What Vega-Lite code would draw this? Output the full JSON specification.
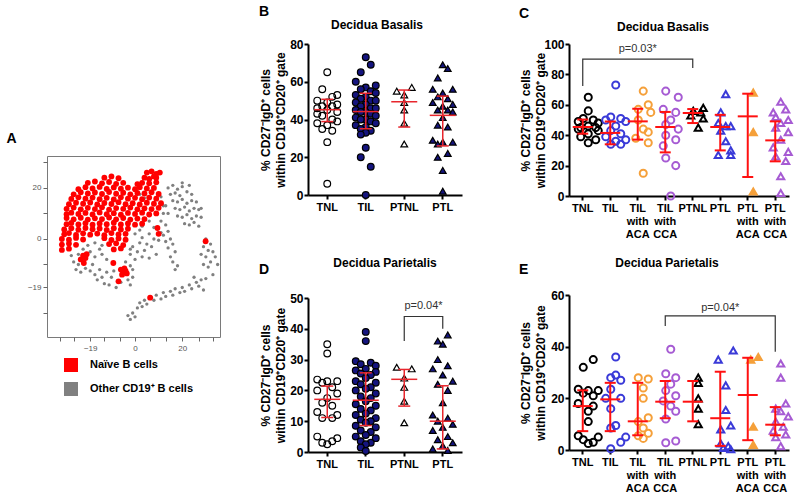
{
"$schema": "https://vega.github.io/schema/vega-lite/v6.json",
"padding": {"left": 5, "top": 5, "right": 0, "bottom": 0},
"config": {
  "font": "Liberation Sans",
  "view": {"stroke": null},
  "axis": {"domainColor": "black", "domainWidth": 2, "tickColor": "black", "tickWidth": 2, "tickSize": 4, "labelFontWeight": "bold", "labelColor": "black", "labelFontSize": 12, "labelPadding": 1, "titleFontWeight": "bold", "titleFontSize": 12, "titleColor": "black", "grid": false, "labelOverlap": false, "labelBound": false, "labelFlush": false},
  "axisX": {"labelAngle": 0, "labelFontSize": 11, "labelLineHeight": 13, "labelPadding": 2},
  "title": {"fontSize": 12, "fontWeight": "bold", "color": "black"},
  "point": {"opacity": 1}
},
"datasets": {
  "legend": [{"t":"N","lab":"Naïve B cells"},{"t":"O","lab":"Other CD19⁺ B cells"}],
  "tsne": [
    {"x":14,"y":20,"t":"O"},{"x":16,"y":21,"t":"O"},{"x":18,"y":19.5,"t":"O"},{"x":20,"y":20.5,"t":"O"},{"x":15,"y":17.5,"t":"O"},{"x":17,"y":18,"t":"O"},{"x":19,"y":17,"t":"O"},{"x":22,"y":18.5,"t":"O"},{"x":24,"y":17.5,"t":"O"},{"x":16,"y":15,"t":"O"},{"x":18,"y":14.5,"t":"O"},{"x":20,"y":15.5,"t":"O"},{"x":22,"y":14,"t":"O"},{"x":24,"y":15,"t":"O"},{"x":26,"y":14.5,"t":"O"},{"x":17,"y":12,"t":"O"},{"x":19,"y":11.5,"t":"O"},{"x":21,"y":12.5,"t":"O"},{"x":23,"y":11,"t":"O"},{"x":25,"y":12,"t":"O"},{"x":27,"y":11.5,"t":"O"},{"x":18,"y":9,"t":"O"},{"x":20,"y":8.5,"t":"O"},{"x":22,"y":9.5,"t":"O"},{"x":24,"y":8,"t":"O"},{"x":26,"y":9,"t":"O"},{"x":28,"y":8.5,"t":"O"},{"x":21,"y":6,"t":"O"},{"x":23,"y":5.5,"t":"O"},{"x":25,"y":6.5,"t":"O"},{"x":27,"y":5,"t":"O"},{"x":13,"y":13,"t":"O"},{"x":14,"y":10,"t":"O"},{"x":28,"y":12,"t":"O"},{"x":20,"y":22,"t":"O"},{"x":23,"y":21,"t":"O"},
    {"x":2,"y":17.5,"t":"O"},{"x":4,"y":16,"t":"O"},{"x":11,"y":16.5,"t":"O"},{"x":12,"y":13,"t":"O"},{"x":12,"y":10,"t":"O"},{"x":11,"y":7,"t":"O"},{"x":13,"y":5.5,"t":"O"},{"x":14,"y":3,"t":"O"},{"x":12,"y":1.5,"t":"O"},{"x":15,"y":0,"t":"O"},{"x":16,"y":-2,"t":"O"},{"x":14,"y":-3.5,"t":"O"},{"x":17,"y":-5,"t":"O"},{"x":15,"y":-7,"t":"O"},{"x":16,"y":-9,"t":"O"},{"x":18,"y":-10.5,"t":"O"},{"x":17,"y":-12,"t":"O"},{"x":13,"y":-1,"t":"O"},{"x":10,"y":-0.5,"t":"O"},{"x":11,"y":2.5,"t":"O"},{"x":8,"y":4.5,"t":"O"},{"x":6,"y":7,"t":"O"},{"x":3,"y":5,"t":"O"},{"x":2,"y":3.5,"t":"O"},{"x":0,"y":2,"t":"O"},{"x":3,"y":0.5,"t":"O"},{"x":6,"y":2,"t":"O"},{"x":8,"y":0,"t":"O"},{"x":5,"y":-2,"t":"O"},{"x":2,"y":-1.5,"t":"O"},{"x":-1,"y":-3,"t":"O"},{"x":1,"y":-5,"t":"O"},{"x":4,"y":-4.5,"t":"O"},{"x":7,"y":-3,"t":"O"},{"x":3,"y":-7,"t":"O"},{"x":0,"y":-8,"t":"O"},{"x":-2,"y":-6,"t":"O"},{"x":6,"y":-7.5,"t":"O"},{"x":9,"y":-6,"t":"O"},
    {"x":-26,"y":-9,"t":"O"},{"x":-24,"y":-10,"t":"O"},{"x":-25,"y":-12,"t":"O"},{"x":-23,"y":-13,"t":"O"},{"x":-21,"y":-11.5,"t":"O"},{"x":-19,"y":-12.5,"t":"O"},{"x":-18,"y":-10,"t":"O"},{"x":-17,"y":-14,"t":"O"},{"x":-15,"y":-12,"t":"O"},{"x":-16,"y":-16,"t":"O"},{"x":-14,"y":-15,"t":"O"},{"x":-13,"y":-17.5,"t":"O"},{"x":-12,"y":-13,"t":"O"},{"x":-10,"y":-15,"t":"O"},{"x":-11,"y":-18,"t":"O"},{"x":-9,"y":-12.5,"t":"O"},{"x":-8,"y":-19,"t":"O"},{"x":-6,"y":-17,"t":"O"},{"x":-3,"y":-16,"t":"O"},{"x":-2,"y":-18,"t":"O"},{"x":-1,"y":-15,"t":"O"},{"x":-4,"y":-9,"t":"O"},{"x":-2,"y":-10.5,"t":"O"},{"x":-1,"y":-12,"t":"O"},{"x":-17,"y":-7,"t":"O"},{"x":-14,"y":-6,"t":"O"},{"x":-12,"y":-8,"t":"O"},{"x":-15,"y":-4,"t":"O"},{"x":-19,"y":-5,"t":"O"},{"x":-22,"y":-4,"t":"O"},{"x":-20,"y":-2.5,"t":"O"},{"x":-17,"y":-1.5,"t":"O"},{"x":-14,"y":-2.5,"t":"O"},{"x":-2,"y":-4,"t":"O"},{"x":-24,"y":-6,"t":"O"},{"x":-27,"y":-6.5,"t":"O"},
    {"x":30,"y":0,"t":"O"},{"x":32,"y":-2,"t":"O"},{"x":29,"y":-3,"t":"O"},{"x":31,"y":-4.5,"t":"O"},{"x":33,"y":-5,"t":"O"},{"x":34,"y":-7,"t":"O"},{"x":30,"y":-7,"t":"O"},{"x":28,"y":-6,"t":"O"},{"x":32,"y":-9,"t":"O"},{"x":35,"y":-10,"t":"O"},{"x":31,"y":-11,"t":"O"},{"x":29,"y":-10,"t":"O"},
    {"x":-3,"y":-30,"t":"O"},{"x":-2,"y":-31.5,"t":"O"},{"x":-1,"y":-29,"t":"O"},{"x":0,"y":-30.5,"t":"O"},{"x":1,"y":-27,"t":"O"},{"x":2,"y":-25,"t":"O"},{"x":3,"y":-26.5,"t":"O"},{"x":4,"y":-24,"t":"O"},{"x":5,"y":-25.5,"t":"O"},{"x":7,"y":-23,"t":"O"},{"x":8,"y":-24,"t":"O"},{"x":9,"y":-22,"t":"O"},{"x":11,"y":-23.5,"t":"O"},{"x":12,"y":-21,"t":"O"},{"x":13,"y":-22.5,"t":"O"},{"x":15,"y":-20.5,"t":"O"},{"x":16,"y":-22,"t":"O"},{"x":17,"y":-19.5,"t":"O"},{"x":19,"y":-21,"t":"O"},{"x":20,"y":-19,"t":"O"},{"x":21,"y":-20.5,"t":"O"},{"x":23,"y":-18,"t":"O"},{"x":24,"y":-19.5,"t":"O"},{"x":26,"y":-17,"t":"O"},{"x":27,"y":-18.5,"t":"O"},{"x":28,"y":-16,"t":"O"},{"x":30,"y":-15.5,"t":"O"},{"x":25,"y":-15,"t":"O"},{"x":33,"y":-14,"t":"O"},{"x":29,"y":-20,"t":"O"},
    {"x":5,"y":26,"t":"N"},{"x":7,"y":26.5,"t":"N"},{"x":9,"y":25.5,"t":"N"},{"x":10.5,"y":26,"t":"N"},{"x":8,"y":24.5,"t":"N"},
    {"x":-13,"y":24,"t":"N"},{"x":-10,"y":24.5,"t":"N"},{"x":-7,"y":23.8,"t":"N"},{"x":4,"y":24,"t":"N"},{"x":6,"y":23.5,"t":"N"},{"x":9,"y":24,"t":"N"},
    {"x":-20,"y":22,"t":"N"},{"x":-17,"y":22.5,"t":"N"},{"x":-14,"y":21.8,"t":"N"},{"x":-11,"y":22.3,"t":"N"},{"x":-8,"y":21.6,"t":"N"},{"x":-5,"y":22,"t":"N"},{"x":1,"y":21.5,"t":"N"},{"x":3,"y":22,"t":"N"},{"x":6,"y":21.8,"t":"N"},{"x":9,"y":22.2,"t":"N"},
    {"x":-24,"y":19.5,"t":"N"},{"x":-21,"y":20.3,"t":"N"},{"x":-18,"y":19.8,"t":"N"},{"x":-15,"y":20.4,"t":"N"},{"x":-12,"y":19.6,"t":"N"},{"x":-9,"y":20.2,"t":"N"},{"x":-6,"y":19.7,"t":"N"},{"x":-3,"y":20.1,"t":"N"},{"x":0,"y":19.5,"t":"N"},{"x":2,"y":20.3,"t":"N"},{"x":5,"y":19.8,"t":"N"},{"x":8,"y":20,"t":"N"},
    {"x":-26,"y":17.5,"t":"N"},{"x":-23,"y":18.3,"t":"N"},{"x":-20,"y":17.8,"t":"N"},{"x":-17,"y":18.2,"t":"N"},{"x":-14,"y":17.6,"t":"N"},{"x":-11,"y":18.4,"t":"N"},{"x":-8,"y":17.7,"t":"N"},{"x":-5,"y":18.1,"t":"N"},{"x":-2,"y":17.5,"t":"N"},{"x":1,"y":18,"t":"N"},{"x":4,"y":17.8,"t":"N"},{"x":7,"y":18.3,"t":"N"},{"x":10,"y":17.6,"t":"N"},
    {"x":-27,"y":15.7,"t":"N"},{"x":-24,"y":16.3,"t":"N"},{"x":-21,"y":15.8,"t":"N"},{"x":-18,"y":16.2,"t":"N"},{"x":-15,"y":15.6,"t":"N"},{"x":-12,"y":16.1,"t":"N"},{"x":-9,"y":15.5,"t":"N"},{"x":-6,"y":16.3,"t":"N"},{"x":-3,"y":15.8,"t":"N"},{"x":0,"y":16.1,"t":"N"},{"x":3,"y":15.6,"t":"N"},{"x":6,"y":16.2,"t":"N"},{"x":9,"y":15.8,"t":"N"},
    {"x":-28,"y":13.6,"t":"N"},{"x":-25,"y":14.2,"t":"N"},{"x":-22,"y":13.8,"t":"N"},{"x":-19,"y":14.3,"t":"N"},{"x":-16,"y":13.5,"t":"N"},{"x":-13,"y":14.1,"t":"N"},{"x":-10,"y":13.7,"t":"N"},{"x":-7,"y":14.4,"t":"N"},{"x":-4,"y":13.6,"t":"N"},{"x":-1,"y":14,"t":"N"},{"x":2,"y":13.5,"t":"N"},{"x":5,"y":14.2,"t":"N"},{"x":8,"y":13.8,"t":"N"},{"x":11,"y":14,"t":"N"},
    {"x":-29,"y":11.8,"t":"N"},{"x":-26,"y":12.3,"t":"N"},{"x":-23,"y":11.6,"t":"N"},{"x":-20,"y":12.2,"t":"N"},{"x":-17,"y":11.7,"t":"N"},{"x":-14,"y":12.4,"t":"N"},{"x":-11,"y":11.5,"t":"N"},{"x":-8,"y":12.1,"t":"N"},{"x":-5,"y":11.8,"t":"N"},{"x":-2,"y":12.3,"t":"N"},{"x":1,"y":11.6,"t":"N"},{"x":4,"y":12,"t":"N"},{"x":7,"y":11.7,"t":"N"},{"x":10,"y":12.2,"t":"N"},
    {"x":-29,"y":9.7,"t":"N"},{"x":-27,"y":10.3,"t":"N"},{"x":-24,"y":9.8,"t":"N"},{"x":-21,"y":10.2,"t":"N"},{"x":-18,"y":9.6,"t":"N"},{"x":-15,"y":10.4,"t":"N"},{"x":-12,"y":9.7,"t":"N"},{"x":-9,"y":10.1,"t":"N"},{"x":-6,"y":9.5,"t":"N"},{"x":-3,"y":10.2,"t":"N"},{"x":0,"y":9.8,"t":"N"},{"x":3,"y":10.3,"t":"N"},{"x":6,"y":9.6,"t":"N"},{"x":9,"y":10,"t":"N"},
    {"x":-29,"y":8.2,"t":"N"},{"x":-26,"y":7.7,"t":"N"},{"x":-23,"y":8.3,"t":"N"},{"x":-20,"y":7.6,"t":"N"},{"x":-17,"y":8.1,"t":"N"},{"x":-14,"y":7.8,"t":"N"},{"x":-11,"y":8.4,"t":"N"},{"x":-8,"y":7.7,"t":"N"},{"x":-5,"y":8.2,"t":"N"},{"x":-2,"y":7.6,"t":"N"},{"x":1,"y":8,"t":"N"},{"x":4,"y":7.8,"t":"N"},
    {"x":-29,"y":5.8,"t":"N"},{"x":-27,"y":6.3,"t":"N"},{"x":-24,"y":5.7,"t":"N"},{"x":-21,"y":6.2,"t":"N"},{"x":-18,"y":5.6,"t":"N"},{"x":-15,"y":6.1,"t":"N"},{"x":-12,"y":5.8,"t":"N"},{"x":-9,"y":6.4,"t":"N"},{"x":-6,"y":5.7,"t":"N"},{"x":-3,"y":6.1,"t":"N"},{"x":0,"y":5.6,"t":"N"},{"x":3,"y":6,"t":"N"},
    {"x":-30,"y":3.7,"t":"N"},{"x":-27,"y":4.2,"t":"N"},{"x":-24,"y":3.6,"t":"N"},{"x":-21,"y":4.3,"t":"N"},{"x":-18,"y":3.8,"t":"N"},{"x":-15,"y":4.1,"t":"N"},{"x":-12,"y":3.5,"t":"N"},{"x":-9,"y":4.2,"t":"N"},{"x":-6,"y":3.7,"t":"N"},{"x":-3,"y":4,"t":"N"},
    {"x":-30,"y":1.8,"t":"N"},{"x":-28,"y":2.3,"t":"N"},{"x":-25,"y":1.6,"t":"N"},{"x":-22,"y":2.2,"t":"N"},{"x":-19,"y":1.7,"t":"N"},{"x":-16,"y":2.1,"t":"N"},{"x":-13,"y":1.5,"t":"N"},{"x":-10,"y":2.3,"t":"N"},{"x":-7,"y":1.8,"t":"N"},{"x":-4,"y":2,"t":"N"},
    {"x":-31,"y":0,"t":"N"},{"x":-28,"y":-0.3,"t":"N"},{"x":-25,"y":0.4,"t":"N"},{"x":-22,"y":-0.2,"t":"N"},{"x":-13,"y":0.3,"t":"N"},{"x":-10,"y":-0.4,"t":"N"},{"x":-7,"y":0.2,"t":"N"},{"x":-4,"y":-0.3,"t":"N"},
    {"x":-31,"y":-2.2,"t":"N"},{"x":-28,"y":-1.8,"t":"N"},{"x":-25,"y":-2.3,"t":"N"},{"x":-11,"y":-2,"t":"N"},{"x":-8,"y":-1.7,"t":"N"},{"x":-5,"y":-2.4,"t":"N"},
    {"x":-31,"y":-4.3,"t":"N"},{"x":-28,"y":-3.8,"t":"N"},{"x":-9,"y":-4.1,"t":"N"},{"x":-6,"y":-3.7,"t":"N"},
    {"x":-22,"y":-6.5,"t":"N"},{"x":-21,"y":-7.5,"t":"N"},{"x":-20.5,"y":-6,"t":"N"},{"x":-23,"y":-8,"t":"N"},
    {"x":-6,"y":-12,"t":"N"},{"x":-5,"y":-13,"t":"N"},{"x":-4,"y":-12.5,"t":"N"},{"x":-5.5,"y":-14,"t":"N"},{"x":-4.5,"y":-11.5,"t":"N"},{"x":-3.5,"y":-13.5,"t":"N"},
    {"x":-21.7,"y":-9.4,"t":"N"},{"x":-9.2,"y":-9.4,"t":"N"},{"x":-7,"y":-16.6,"t":"N"},{"x":6.4,"y":-23,"t":"N"},{"x":29.9,"y":-0.9,"t":"N"},{"x":9.5,"y":4.3,"t":"N"},{"x":10,"y":2,"t":"N"}
  ],
  "pts": [
    {"p":"B","g":"TNL","v":65,"s":0},{"p":"B","g":"TNL","v":56,"s":-1},{"p":"B","g":"TNL","v":53,"s":2},{"p":"B","g":"TNL","v":52,"s":1},{"p":"B","g":"TNL","v":50,"s":-2},{"p":"B","g":"TNL","v":49,"s":0},{"p":"B","g":"TNL","v":48,"s":2},{"p":"B","g":"TNL","v":47,"s":-1},{"p":"B","g":"TNL","v":47,"s":1},{"p":"B","g":"TNL","v":46,"s":-2},{"p":"B","g":"TNL","v":45,"s":0},{"p":"B","g":"TNL","v":44,"s":2},{"p":"B","g":"TNL","v":43,"s":-2},{"p":"B","g":"TNL","v":42,"s":-1},{"p":"B","g":"TNL","v":40,"s":1},{"p":"B","g":"TNL","v":39,"s":2},{"p":"B","g":"TNL","v":38,"s":-2},{"p":"B","g":"TNL","v":37,"s":0},{"p":"B","g":"TNL","v":35,"s":-1},{"p":"B","g":"TNL","v":34,"s":1},{"p":"B","g":"TNL","v":28,"s":0},{"p":"B","g":"TNL","v":6,"s":0},
    {"p":"B","g":"TIL","v":73,"s":0},{"p":"B","g":"TIL","v":69,"s":1},{"p":"B","g":"TIL","v":65,"s":-1},{"p":"B","g":"TIL","v":60,"s":-2},{"p":"B","g":"TIL","v":58,"s":2},{"p":"B","g":"TIL","v":57,"s":0},{"p":"B","g":"TIL","v":56,"s":-1},{"p":"B","g":"TIL","v":55,"s":1},{"p":"B","g":"TIL","v":54,"s":2},{"p":"B","g":"TIL","v":53,"s":-2},{"p":"B","g":"TIL","v":52,"s":0},{"p":"B","g":"TIL","v":51,"s":-1},{"p":"B","g":"TIL","v":50,"s":1},{"p":"B","g":"TIL","v":50,"s":2},{"p":"B","g":"TIL","v":49,"s":-2},{"p":"B","g":"TIL","v":48,"s":0},{"p":"B","g":"TIL","v":47,"s":-1},{"p":"B","g":"TIL","v":46,"s":1},{"p":"B","g":"TIL","v":46,"s":2},{"p":"B","g":"TIL","v":45,"s":-2},{"p":"B","g":"TIL","v":44,"s":0},{"p":"B","g":"TIL","v":44,"s":-1},{"p":"B","g":"TIL","v":43,"s":1},{"p":"B","g":"TIL","v":42,"s":2},{"p":"B","g":"TIL","v":41,"s":-2},{"p":"B","g":"TIL","v":40,"s":0},{"p":"B","g":"TIL","v":40,"s":-1},{"p":"B","g":"TIL","v":39,"s":1},{"p":"B","g":"TIL","v":38,"s":2},{"p":"B","g":"TIL","v":37,"s":-2},{"p":"B","g":"TIL","v":36,"s":0},{"p":"B","g":"TIL","v":35,"s":-1},{"p":"B","g":"TIL","v":34,"s":1},{"p":"B","g":"TIL","v":33,"s":0},{"p":"B","g":"TIL","v":32,"s":-1},{"p":"B","g":"TIL","v":25,"s":0},{"p":"B","g":"TIL","v":20,"s":-1},{"p":"B","g":"TIL","v":15,"s":1},{"p":"B","g":"TIL","v":0,"s":0},
    {"p":"B","g":"PTNL","v":57,"s":1.5},{"p":"B","g":"PTNL","v":55,"s":-1.5},{"p":"B","g":"PTNL","v":53,"s":0},{"p":"B","g":"PTNL","v":49,"s":0},{"p":"B","g":"PTNL","v":45,"s":0},{"p":"B","g":"PTNL","v":38,"s":0},{"p":"B","g":"PTNL","v":27,"s":0},
    {"p":"B","g":"PTL","v":69,"s":0},{"p":"B","g":"PTL","v":67,"s":1},{"p":"B","g":"PTL","v":62,"s":-1},{"p":"B","g":"PTL","v":56,"s":-2},{"p":"B","g":"PTL","v":56,"s":2},{"p":"B","g":"PTL","v":54,"s":0},{"p":"B","g":"PTL","v":52,"s":-1},{"p":"B","g":"PTL","v":51,"s":1},{"p":"B","g":"PTL","v":49,"s":-2},{"p":"B","g":"PTL","v":48,"s":2},{"p":"B","g":"PTL","v":47,"s":0},{"p":"B","g":"PTL","v":45,"s":-1},{"p":"B","g":"PTL","v":45,"s":1},{"p":"B","g":"PTL","v":44,"s":2},{"p":"B","g":"PTL","v":41,"s":0},{"p":"B","g":"PTL","v":37,"s":-1},{"p":"B","g":"PTL","v":36,"s":1},{"p":"B","g":"PTL","v":29,"s":-2},{"p":"B","g":"PTL","v":28,"s":0},{"p":"B","g":"PTL","v":28,"s":2},{"p":"B","g":"PTL","v":27,"s":-1},{"p":"B","g":"PTL","v":22,"s":1},{"p":"B","g":"PTL","v":20,"s":-1},{"p":"B","g":"PTL","v":13,"s":0},{"p":"B","g":"PTL","v":2,"s":0},
    {"p":"D","g":"TNL","v":35,"s":0},{"p":"D","g":"TNL","v":32,"s":0},{"p":"D","g":"TNL","v":23.5,"s":-2},{"p":"D","g":"TNL","v":23,"s":2},{"p":"D","g":"TNL","v":23,"s":0},{"p":"D","g":"TNL","v":22.5,"s":-1},{"p":"D","g":"TNL","v":21,"s":1},{"p":"D","g":"TNL","v":20,"s":-2},{"p":"D","g":"TNL","v":19,"s":2},{"p":"D","g":"TNL","v":17.5,"s":0},{"p":"D","g":"TNL","v":16,"s":-1},{"p":"D","g":"TNL","v":15,"s":1},{"p":"D","g":"TNL","v":13,"s":-2},{"p":"D","g":"TNL","v":12,"s":2},{"p":"D","g":"TNL","v":11,"s":-1},{"p":"D","g":"TNL","v":11,"s":1},{"p":"D","g":"TNL","v":5,"s":-2},{"p":"D","g":"TNL","v":4.5,"s":2},{"p":"D","g":"TNL","v":3.5,"s":1},{"p":"D","g":"TNL","v":3,"s":-1},{"p":"D","g":"TNL","v":2.5,"s":0},
    {"p":"D","g":"TIL","v":39,"s":0},{"p":"D","g":"TIL","v":36,"s":0},{"p":"D","g":"TIL","v":29.5,"s":-2},{"p":"D","g":"TIL","v":29,"s":1},{"p":"D","g":"TIL","v":28.5,"s":-1},{"p":"D","g":"TIL","v":28,"s":2},{"p":"D","g":"TIL","v":27,"s":0},{"p":"D","g":"TIL","v":26.5,"s":-2},{"p":"D","g":"TIL","v":26,"s":2},{"p":"D","g":"TIL","v":25.5,"s":-1},{"p":"D","g":"TIL","v":25,"s":1},{"p":"D","g":"TIL","v":24,"s":0},{"p":"D","g":"TIL","v":23,"s":-2},{"p":"D","g":"TIL","v":22.5,"s":2},{"p":"D","g":"TIL","v":22,"s":-1},{"p":"D","g":"TIL","v":21,"s":1},{"p":"D","g":"TIL","v":20.5,"s":0},{"p":"D","g":"TIL","v":20,"s":-2},{"p":"D","g":"TIL","v":19,"s":2},{"p":"D","g":"TIL","v":18,"s":-1},{"p":"D","g":"TIL","v":17.5,"s":1},{"p":"D","g":"TIL","v":16.5,"s":0},{"p":"D","g":"TIL","v":15.5,"s":-2},{"p":"D","g":"TIL","v":15,"s":2},{"p":"D","g":"TIL","v":14,"s":-1},{"p":"D","g":"TIL","v":13.5,"s":1},{"p":"D","g":"TIL","v":12.5,"s":0},{"p":"D","g":"TIL","v":12,"s":-2},{"p":"D","g":"TIL","v":11,"s":2},{"p":"D","g":"TIL","v":10.5,"s":-1},{"p":"D","g":"TIL","v":10,"s":1},{"p":"D","g":"TIL","v":9.5,"s":0},{"p":"D","g":"TIL","v":8.5,"s":-2},{"p":"D","g":"TIL","v":8,"s":2},{"p":"D","g":"TIL","v":7,"s":-1},{"p":"D","g":"TIL","v":6.5,"s":1},{"p":"D","g":"TIL","v":5.5,"s":0},{"p":"D","g":"TIL","v":5,"s":-2},{"p":"D","g":"TIL","v":4.5,"s":2},{"p":"D","g":"TIL","v":3.5,"s":-1},{"p":"D","g":"TIL","v":3,"s":1},{"p":"D","g":"TIL","v":2.5,"s":0},{"p":"D","g":"TIL","v":1.5,"s":-1},{"p":"D","g":"TIL","v":0.3,"s":0},
    {"p":"D","g":"PTNL","v":27.5,"s":-1.5},{"p":"D","g":"PTNL","v":27,"s":1.5},{"p":"D","g":"PTNL","v":24,"s":0},{"p":"D","g":"PTNL","v":21,"s":0},{"p":"D","g":"PTNL","v":16.5,"s":0},{"p":"D","g":"PTNL","v":9.5,"s":0},
    {"p":"D","g":"PTL","v":38,"s":1},{"p":"D","g":"PTL","v":36,"s":-1},{"p":"D","g":"PTL","v":35,"s":0},{"p":"D","g":"PTL","v":30,"s":-1},{"p":"D","g":"PTL","v":28,"s":1},{"p":"D","g":"PTL","v":27,"s":-2},{"p":"D","g":"PTL","v":25,"s":0},{"p":"D","g":"PTL","v":23,"s":2},{"p":"D","g":"PTL","v":22,"s":-1},{"p":"D","g":"PTL","v":20,"s":1},{"p":"D","g":"PTL","v":16,"s":0},{"p":"D","g":"PTL","v":12,"s":-2},{"p":"D","g":"PTL","v":11,"s":1},{"p":"D","g":"PTL","v":10,"s":-1},{"p":"D","g":"PTL","v":9,"s":2},{"p":"D","g":"PTL","v":8,"s":0},{"p":"D","g":"PTL","v":7,"s":-2},{"p":"D","g":"PTL","v":5,"s":1},{"p":"D","g":"PTL","v":4,"s":-1},{"p":"D","g":"PTL","v":3,"s":2},{"p":"D","g":"PTL","v":2,"s":0},{"p":"D","g":"PTL","v":1,"s":-2},{"p":"D","g":"PTL","v":0.5,"s":1},
    {"p":"C","g":"TNL","v":65,"s":0},{"p":"C","g":"TNL","v":56,"s":0},{"p":"C","g":"TNL","v":51,"s":-1},{"p":"C","g":"TNL","v":50,"s":1},{"p":"C","g":"TNL","v":49,"s":-2},{"p":"C","g":"TNL","v":48,"s":2},{"p":"C","g":"TNL","v":46,"s":0},{"p":"C","g":"TNL","v":45,"s":-1.5},{"p":"C","g":"TNL","v":45,"s":1.5},{"p":"C","g":"TNL","v":44,"s":-2},{"p":"C","g":"TNL","v":43,"s":2},{"p":"C","g":"TNL","v":41,"s":0},{"p":"C","g":"TNL","v":39,"s":-1.5},{"p":"C","g":"TNL","v":37,"s":1.5},{"p":"C","g":"TNL","v":35,"s":0},
    {"p":"C","g":"TIL","v":73,"s":0},{"p":"C","g":"TIL","v":52,"s":-1},{"p":"C","g":"TIL","v":51,"s":1},{"p":"C","g":"TIL","v":50,"s":-2},{"p":"C","g":"TIL","v":49,"s":2},{"p":"C","g":"TIL","v":46,"s":0},{"p":"C","g":"TIL","v":43,"s":-1},{"p":"C","g":"TIL","v":41,"s":1},{"p":"C","g":"TIL","v":39,"s":-2},{"p":"C","g":"TIL","v":37,"s":2},{"p":"C","g":"TIL","v":36,"s":0},{"p":"C","g":"TIL","v":34,"s":-1},{"p":"C","g":"TIL","v":34,"s":1},
    {"p":"C","g":"TIL with ACA","v":69,"s":0},{"p":"C","g":"TIL with ACA","v":60,"s":1},{"p":"C","g":"TIL with ACA","v":57,"s":-1},{"p":"C","g":"TIL with ACA","v":55,"s":1.5},{"p":"C","g":"TIL with ACA","v":50,"s":-1},{"p":"C","g":"TIL with ACA","v":44,"s":0},{"p":"C","g":"TIL with ACA","v":42,"s":1},{"p":"C","g":"TIL with ACA","v":38,"s":-1.5},{"p":"C","g":"TIL with ACA","v":35,"s":1},{"p":"C","g":"TIL with ACA","v":15,"s":0},
    {"p":"C","g":"TIL with CCA","v":69,"s":-1},{"p":"C","g":"TIL with CCA","v":65,"s":1.5},{"p":"C","g":"TIL with CCA","v":57,"s":-1.5},{"p":"C","g":"TIL with CCA","v":55,"s":1},{"p":"C","g":"TIL with CCA","v":50,"s":0},{"p":"C","g":"TIL with CCA","v":47,"s":-1},{"p":"C","g":"TIL with CCA","v":44,"s":1.5},{"p":"C","g":"TIL with CCA","v":40,"s":-1},{"p":"C","g":"TIL with CCA","v":37,"s":1},{"p":"C","g":"TIL with CCA","v":33,"s":-1.5},{"p":"C","g":"TIL with CCA","v":25,"s":-1},{"p":"C","g":"TIL with CCA","v":20,"s":1},{"p":"C","g":"TIL with CCA","v":0,"s":0},
    {"p":"C","g":"PTNL","v":58,"s":1},{"p":"C","g":"PTNL","v":56,"s":-1},{"p":"C","g":"PTNL","v":55,"s":0.5},{"p":"C","g":"PTNL","v":53,"s":-1.5},{"p":"C","g":"PTNL","v":51,"s":1},{"p":"C","g":"PTNL","v":45,"s":0},
    {"p":"C","g":"PTL","v":67,"s":0},{"p":"C","g":"PTL","v":55,"s":-1},{"p":"C","g":"PTL","v":48,"s":-1.5},{"p":"C","g":"PTL","v":46,"s":1},{"p":"C","g":"PTL","v":46,"s":0},{"p":"C","g":"PTL","v":43,"s":-1},{"p":"C","g":"PTL","v":36,"s":0},{"p":"C","g":"PTL","v":30,"s":1},{"p":"C","g":"PTL","v":27,"s":-1.5},{"p":"C","g":"PTL","v":27,"s":1},
    {"p":"C","g":"PTL with ACA","v":68,"s":0},{"p":"C","g":"PTL with ACA","v":42,"s":0},{"p":"C","g":"PTL with ACA","v":3,"s":0},
    {"p":"C","g":"PTL with CCA","v":62,"s":0},{"p":"C","g":"PTL with CCA","v":57,"s":1},{"p":"C","g":"PTL with CCA","v":55,"s":-1.5},{"p":"C","g":"PTL with CCA","v":52,"s":-1},{"p":"C","g":"PTL with CCA","v":50,"s":1.5},{"p":"C","g":"PTL with CCA","v":48,"s":0},{"p":"C","g":"PTL with CCA","v":45,"s":-1},{"p":"C","g":"PTL with CCA","v":42,"s":1.5},{"p":"C","g":"PTL with CCA","v":37,"s":0},{"p":"C","g":"PTL with CCA","v":32,"s":-1.5},{"p":"C","g":"PTL with CCA","v":29,"s":1.5},{"p":"C","g":"PTL with CCA","v":26,"s":-1},{"p":"C","g":"PTL with CCA","v":23,"s":1},{"p":"C","g":"PTL with CCA","v":13,"s":0},{"p":"C","g":"PTL with CCA","v":2,"s":0},
    {"p":"E","g":"TNL","v":35,"s":1},{"p":"E","g":"TNL","v":32,"s":-1},{"p":"E","g":"TNL","v":23.5,"s":-2},{"p":"E","g":"TNL","v":23,"s":2},{"p":"E","g":"TNL","v":23,"s":0},{"p":"E","g":"TNL","v":22,"s":-1},{"p":"E","g":"TNL","v":21,"s":1},{"p":"E","g":"TNL","v":18,"s":-2},{"p":"E","g":"TNL","v":17,"s":1},{"p":"E","g":"TNL","v":15,"s":0},{"p":"E","g":"TNL","v":11,"s":0},{"p":"E","g":"TNL","v":5.5,"s":-2},{"p":"E","g":"TNL","v":5,"s":2},{"p":"E","g":"TNL","v":4,"s":-1},{"p":"E","g":"TNL","v":3,"s":1},{"p":"E","g":"TNL","v":2.5,"s":0},
    {"p":"E","g":"TIL","v":36,"s":0},{"p":"E","g":"TIL","v":29,"s":0},{"p":"E","g":"TIL","v":28,"s":-1},{"p":"E","g":"TIL","v":27,"s":1},{"p":"E","g":"TIL","v":23.5,"s":-1},{"p":"E","g":"TIL","v":20,"s":-2},{"p":"E","g":"TIL","v":20,"s":1},{"p":"E","g":"TIL","v":16,"s":-1},{"p":"E","g":"TIL","v":9.5,"s":0},{"p":"E","g":"TIL","v":8.5,"s":-1},{"p":"E","g":"TIL","v":5,"s":2},{"p":"E","g":"TIL","v":3,"s":1},{"p":"E","g":"TIL","v":0.5,"s":-1},
    {"p":"E","g":"TIL with ACA","v":28,"s":-1},{"p":"E","g":"TIL with ACA","v":27.5,"s":1},{"p":"E","g":"TIL with ACA","v":24,"s":0},{"p":"E","g":"TIL with ACA","v":20,"s":0},{"p":"E","g":"TIL with ACA","v":12.5,"s":1},{"p":"E","g":"TIL with ACA","v":11,"s":-1},{"p":"E","g":"TIL with ACA","v":8.5,"s":0},{"p":"E","g":"TIL with ACA","v":6.5,"s":1},{"p":"E","g":"TIL with ACA","v":5.5,"s":-1},{"p":"E","g":"TIL with ACA","v":4.5,"s":0},
    {"p":"E","g":"TIL with CCA","v":39,"s":0},{"p":"E","g":"TIL with CCA","v":29.5,"s":-1},{"p":"E","g":"TIL with CCA","v":28,"s":1},{"p":"E","g":"TIL with CCA","v":25.5,"s":0},{"p":"E","g":"TIL with CCA","v":23,"s":-1},{"p":"E","g":"TIL with CCA","v":21,"s":1},{"p":"E","g":"TIL with CCA","v":19,"s":-1.5},{"p":"E","g":"TIL with CCA","v":17,"s":0},{"p":"E","g":"TIL with CCA","v":15,"s":1},{"p":"E","g":"TIL with CCA","v":12,"s":-1},{"p":"E","g":"TIL with CCA","v":3.5,"s":1},{"p":"E","g":"TIL with CCA","v":2.8,"s":-1},
    {"p":"E","g":"PTNL","v":28,"s":0},{"p":"E","g":"PTNL","v":26,"s":0},{"p":"E","g":"PTNL","v":20,"s":0},{"p":"E","g":"PTNL","v":16,"s":0},{"p":"E","g":"PTNL","v":10,"s":0},
    {"p":"E","g":"PTL","v":38.5,"s":1.5},{"p":"E","g":"PTL","v":35,"s":-1.5},{"p":"E","g":"PTL","v":25,"s":0},{"p":"E","g":"PTL","v":15.5,"s":0},{"p":"E","g":"PTL","v":9.5,"s":1},{"p":"E","g":"PTL","v":8,"s":-1},{"p":"E","g":"PTL","v":2.5,"s":-1},{"p":"E","g":"PTL","v":1.5,"s":0.5},{"p":"E","g":"PTL","v":0.8,"s":-0.5},{"p":"E","g":"PTL","v":0.3,"s":1},
    {"p":"E","g":"PTL with ACA","v":36,"s":1},{"p":"E","g":"PTL with ACA","v":35,"s":-0.5},{"p":"E","g":"PTL with ACA","v":9,"s":0},{"p":"E","g":"PTL with ACA","v":2,"s":0},
    {"p":"E","g":"PTL with CCA","v":33.5,"s":0},{"p":"E","g":"PTL with CCA","v":28,"s":0},{"p":"E","g":"PTL with CCA","v":18,"s":1},{"p":"E","g":"PTL with CCA","v":16,"s":-1},{"p":"E","g":"PTL with CCA","v":15,"s":0},{"p":"E","g":"PTL with CCA","v":13,"s":1.5},{"p":"E","g":"PTL with CCA","v":11,"s":-1},{"p":"E","g":"PTL with CCA","v":9,"s":0.5},{"p":"E","g":"PTL with CCA","v":7.5,"s":-1.5},{"p":"E","g":"PTL with CCA","v":6,"s":1},{"p":"E","g":"PTL with CCA","v":5,"s":-1},{"p":"E","g":"PTL with CCA","v":1.5,"s":0}
  ],
  "sum": [
    {"p":"B","g":"TNL","m":45.2,"lo":38.9,"hi":50.7},{"p":"B","g":"TIL","m":44.2,"lo":35.1,"hi":53.9},{"p":"B","g":"PTNL","m":49.4,"lo":36,"hi":55.6},{"p":"B","g":"PTL","m":42.2,"lo":26,"hi":52.4},
    {"p":"D","g":"TNL","m":17.1,"lo":11.2,"hi":21.4},{"p":"D","g":"TIL","m":16.8,"lo":8.6,"hi":25.7},{"p":"D","g":"PTNL","m":23.6,"lo":14.9,"hi":26.8},{"p":"D","g":"PTL","m":10,"lo":1,"hi":21.5},
    {"p":"C","g":"TNL","m":45.4,"lo":41,"hi":50.3},{"p":"C","g":"TIL","m":41.5,"lo":34,"hi":49},{"p":"C","g":"TIL with ACA","m":49.1,"lo":37.1,"hi":57.4},{"p":"C","g":"TIL with CCA","m":45.4,"lo":28.7,"hi":55.3},{"p":"C","g":"PTNL","m":54.6,"lo":48,"hi":57.2},{"p":"C","g":"PTL","m":45.4,"lo":30,"hi":53.4},{"p":"C","g":"PTL with ACA","m":52.4,"lo":12.5,"hi":67.3},{"p":"C","g":"PTL with CCA","m":36.6,"lo":22.8,"hi":49.1},
    {"p":"E","g":"TNL","m":17,"lo":7.3,"hi":23.1},{"p":"E","g":"TIL","m":19.6,"lo":7.3,"hi":26},{"p":"E","g":"TIL with ACA","m":11.1,"lo":5.7,"hi":26},{"p":"E","g":"TIL with CCA","m":18.7,"lo":12.3,"hi":26.7},{"p":"E","g":"PTNL","m":18.7,"lo":11.1,"hi":26.7},{"p":"E","g":"PTL","m":12.3,"lo":1.6,"hi":30.3},{"p":"E","g":"PTL with ACA","m":21.3,"lo":3.8,"hi":35.7},{"p":"E","g":"PTL with CCA","m":9.8,"lo":5.7,"hi":16.6}
  ],
  "brp": [
    {"p":"C","g":"TNL","y":72.4,"o":1},{"p":"C","g":"TNL","y":90,"o":2},{"p":"C","g":"PTNL","y":90,"o":3},{"p":"C","g":"PTNL","y":84.2,"o":4},
    {"p":"D","g":"PTNL","y":36,"o":1},{"p":"D","g":"PTNL","y":44,"o":2},{"p":"D","g":"PTL","y":44,"o":3},{"p":"D","g":"PTL","y":40,"o":4},
    {"p":"E","g":"TIL with CCA","y":48,"o":1},{"p":"E","g":"TIL with CCA","y":51.9,"o":2},{"p":"E","g":"PTL with CCA","y":51.9,"o":3},{"p":"E","g":"PTL with CCA","y":38,"o":4}
  ],
  "brt": [
    {"p":"C","g":"TIL with ACA","y":96.5,"label":"p=0.03*"},
    {"p":"D","g":"PTNL","y":47.5,"label":"p=0.04*"},
    {"p":"E","g":"PTL","y":55,"label":"p=0.04*"}
  ]
},
"spacing": 37,
"resolve": {"scale": {"x": "independent", "y": "independent"}},
"hconcat": [
  {
    "spacing": 0,
    "resolve": {"scale": {"x": "independent", "y": "independent"}},
    "vconcat": [
      {"width": 173, "height": 87, "data": {"values": []}, "mark": "point", "encoding": {}},
      {
        "title": {"text": "A", "anchor": "start", "fontSize": 14, "dx": -21, "offset": 10},
        "width": 173, "height": 181,
        "view": {"stroke": "#7a7a7a", "strokeWidth": 1},
        "data": {"name": "tsne"},
        "mark": {"type": "circle", "opacity": 1},
        "encoding": {
          "x": {"field": "x", "type": "quantitative", "scale": {"domain": [-37.3, 36], "nice": false, "zero": false},
                "axis": {"title": null, "values": [-32,-26,-19,-13,-6.5,0,6.5,13,20,27,33], "labelExpr": "datum.value==-19||datum.value==0||datum.value==20?datum.label:''", "domain": false, "tickColor": "#666", "tickWidth": 1, "tickSize": 4, "labelFontSize": 8, "labelFontWeight": "normal", "labelColor": "#555", "labelPadding": 3}},
          "y": {"field": "y", "type": "quantitative", "scale": {"domain": [-38.4, 32.5], "nice": false, "zero": false},
                "axis": {"title": null, "values": [30,20,10,0,-10,-19,-29], "labelExpr": "datum.value==-19||datum.value==0||datum.value==20?datum.label:''", "domain": false, "tickColor": "#666", "tickWidth": 1, "tickSize": 4, "labelFontSize": 8, "labelFontWeight": "normal", "labelColor": "#555", "labelPadding": 2}},
          "size": {"condition": {"test": "datum.t=='N'", "value": 34}, "value": 11},
          "color": {"field": "t", "type": "nominal", "scale": {"domain": ["N", "O"], "range": ["#ff0000", "#808080"]}, "legend": null}
        }
      },
      {
        "width": 150, "height": 48,
        "data": {"name": "legend"},
        "layer": [
          {"mark": {"type": "square", "size": 196, "opacity": 1},
           "encoding": {"x": {"datum": 24, "type": "quantitative", "scale": {"domain": [0, 150], "nice": false}, "axis": null},
                        "y": {"field": "t", "type": "nominal", "scale": {"type": "band", "domain": ["N", "O"], "paddingInner": 0, "paddingOuter": 0}, "axis": null},
                        "color": {"field": "t", "type": "nominal", "scale": {"domain": ["N", "O"], "range": ["#ff0000", "#808080"]}, "legend": null}}},
          {"mark": {"type": "text", "align": "left", "baseline": "middle", "fontSize": 11, "fontWeight": "bold", "color": "black"},
           "encoding": {"x": {"datum": 43, "type": "quantitative", "scale": {"domain": [0, 150], "nice": false}, "axis": null},
                        "y": {"field": "t", "type": "nominal", "bandPosition": 0.5, "scale": {"type": "band", "domain": ["N", "O"], "paddingInner": 0, "paddingOuter": 0}, "axis": null},
                        "text": {"field": "lab"}}}
        ]
      }
    ]
  },
  {
    "spacing": 56,
    "resolve": {"scale": {"x": "independent", "y": "independent"}},
    "hconcat": [
      {
        "spacing": 45,
        "resolve": {"scale": {"x": "independent", "y": "independent"}},
        "vconcat": [
          {
            "title": {"text": "B", "anchor": "start", "fontSize": 14, "offset": 0},
            "vconcat": [{
              "width": 154, "height": 151,
              "title": {"text": "Decidua Basalis", "frame": "group", "dx": -8, "offset": 6},
              "layer": [
                {"data": {"name": "pts"}, "transform": [{"filter": "datum.p=='B'"}],
                 "mark": {"type": "point", "filled": true, "size": 45, "strokeWidth": 1.2, "opacity": 1},
                 "encoding": {
                   "x": {"field": "g", "type": "nominal", "scale": {"type": "band", "domain": ["TNL","TIL","PTNL","PTL"], "paddingInner": 0, "paddingOuter": 0}, "axis": {"title": null}},
                   "xOffset": {"field": "s", "type": "quantitative", "scale": {"domain": [-3, 3], "range": [4.25, 34.25]}},
                   "y": {"field": "v", "type": "quantitative", "scale": {"domain": [0, 80], "nice": false}, "axis": {"title": ["% CD27⁻IgD⁺ cells", "within CD19⁺CD20⁺ gate"], "values": [0,20,40,60,80], "minExtent": 19, "maxExtent": 19, "titlePadding": 2, "titleLineHeight": 15, "labelOverlap": false}},
                   "shape": {"condition": {"test": "indexof(datum.g,'PT')==0", "value": "triangle-up"}, "value": "circle"},
                   "fill": {"condition": {"test": "datum.g=='TIL'||datum.g=='PTL'", "value": "#14147e"}, "value": "transparent"},
                   "stroke": {"value": "black"}
                 }},
                {"data": {"name": "sum"}, "transform": [{"filter": "datum.p=='B'"}],
                 "encoding": {"x": {"field": "g", "type": "nominal", "bandPosition": 0.5, "scale": {"type": "band", "domain": ["TNL","TIL","PTNL","PTL"], "paddingInner": 0, "paddingOuter": 0}}},
                 "layer": [
                   {"mark": {"type": "rule", "color": "#e8262d", "strokeWidth": 1.5}, "encoding": {"y": {"field": "lo", "type": "quantitative", "scale": {"domain": [0, 80], "nice": false}, "axis": {"title": ["% CD27⁻IgD⁺ cells", "within CD19⁺CD20⁺ gate"], "values": [0,20,40,60,80], "minExtent": 19, "maxExtent": 19, "titlePadding": 2, "titleLineHeight": 15, "labelOverlap": false}}, "y2": {"field": "hi"}}},
                   {"mark": {"type": "tick", "size": 12, "thickness": 1.5, "color": "#e8262d", "opacity": 1}, "encoding": {"y": {"field": "lo", "type": "quantitative", "scale": {"domain": [0, 80], "nice": false}, "axis": {"title": ["% CD27⁻IgD⁺ cells", "within CD19⁺CD20⁺ gate"], "values": [0,20,40,60,80], "minExtent": 19, "maxExtent": 19, "titlePadding": 2, "titleLineHeight": 15, "labelOverlap": false}}}},
                   {"mark": {"type": "tick", "size": 12, "thickness": 1.5, "color": "#e8262d", "opacity": 1}, "encoding": {"y": {"field": "hi", "type": "quantitative", "scale": {"domain": [0, 80], "nice": false}, "axis": {"title": ["% CD27⁻IgD⁺ cells", "within CD19⁺CD20⁺ gate"], "values": [0,20,40,60,80], "minExtent": 19, "maxExtent": 19, "titlePadding": 2, "titleLineHeight": 15, "labelOverlap": false}}}},
                   {"mark": {"type": "tick", "size": 26, "thickness": 1.5, "color": "#e8262d", "opacity": 1}, "encoding": {"y": {"field": "m", "type": "quantitative", "scale": {"domain": [0, 80], "nice": false}, "axis": {"title": ["% CD27⁻IgD⁺ cells", "within CD19⁺CD20⁺ gate"], "values": [0,20,40,60,80], "minExtent": 19, "maxExtent": 19, "titlePadding": 2, "titleLineHeight": 15, "labelOverlap": false}}}}
                 ]}
              ]
            }]
          },
          {
            "title": {"text": "D", "anchor": "start", "fontSize": 14, "offset": 0, "dy": 20},
            "vconcat": [{
              "width": 154, "height": 154,
              "title": {"text": "Decidua Parietalis", "frame": "group", "dx": 0, "offset": 22},
              "layer": [
                {"data": {"name": "pts"}, "transform": [{"filter": "datum.p=='D'"}],
                 "mark": {"type": "point", "filled": true, "size": 45, "strokeWidth": 1.2, "opacity": 1},
                 "encoding": {
                   "x": {"field": "g", "type": "nominal", "scale": {"type": "band", "domain": ["TNL","TIL","PTNL","PTL"], "paddingInner": 0, "paddingOuter": 0}, "axis": {"title": null}},
                   "xOffset": {"field": "s", "type": "quantitative", "scale": {"domain": [-3, 3], "range": [4.25, 34.25]}},
                   "y": {"field": "v", "type": "quantitative", "scale": {"domain": [0, 50], "nice": false}, "axis": {"title": ["% CD27⁻IgD⁺ cells", "within CD19⁺CD20⁺ gate"], "values": [0,10,20,30,40,50], "minExtent": 19, "maxExtent": 19, "titlePadding": 2, "titleLineHeight": 15, "labelOverlap": false}},
                   "shape": {"condition": {"test": "indexof(datum.g,'PT')==0", "value": "triangle-up"}, "value": "circle"},
                   "fill": {"condition": {"test": "datum.g=='TIL'||datum.g=='PTL'", "value": "#14147e"}, "value": "transparent"},
                   "stroke": {"value": "black"}
                 }},
                {"data": {"name": "sum"}, "transform": [{"filter": "datum.p=='D'"}],
                 "encoding": {"x": {"field": "g", "type": "nominal", "bandPosition": 0.5, "scale": {"type": "band", "domain": ["TNL","TIL","PTNL","PTL"], "paddingInner": 0, "paddingOuter": 0}}},
                 "layer": [
                   {"mark": {"type": "rule", "color": "#e8262d", "strokeWidth": 1.5}, "encoding": {"y": {"field": "lo", "type": "quantitative", "scale": {"domain": [0, 50], "nice": false}, "axis": {"title": ["% CD27⁻IgD⁺ cells", "within CD19⁺CD20⁺ gate"], "values": [0,10,20,30,40,50], "minExtent": 19, "maxExtent": 19, "titlePadding": 2, "titleLineHeight": 15, "labelOverlap": false}}, "y2": {"field": "hi"}}},
                   {"mark": {"type": "tick", "size": 12, "thickness": 1.5, "color": "#e8262d", "opacity": 1}, "encoding": {"y": {"field": "lo", "type": "quantitative", "scale": {"domain": [0, 50], "nice": false}, "axis": {"title": ["% CD27⁻IgD⁺ cells", "within CD19⁺CD20⁺ gate"], "values": [0,10,20,30,40,50], "minExtent": 19, "maxExtent": 19, "titlePadding": 2, "titleLineHeight": 15, "labelOverlap": false}}}},
                   {"mark": {"type": "tick", "size": 12, "thickness": 1.5, "color": "#e8262d", "opacity": 1}, "encoding": {"y": {"field": "hi", "type": "quantitative", "scale": {"domain": [0, 50], "nice": false}, "axis": {"title": ["% CD27⁻IgD⁺ cells", "within CD19⁺CD20⁺ gate"], "values": [0,10,20,30,40,50], "minExtent": 19, "maxExtent": 19, "titlePadding": 2, "titleLineHeight": 15, "labelOverlap": false}}}},
                   {"mark": {"type": "tick", "size": 26, "thickness": 1.5, "color": "#e8262d", "opacity": 1}, "encoding": {"y": {"field": "m", "type": "quantitative", "scale": {"domain": [0, 50], "nice": false}, "axis": {"title": ["% CD27⁻IgD⁺ cells", "within CD19⁺CD20⁺ gate"], "values": [0,10,20,30,40,50], "minExtent": 19, "maxExtent": 19, "titlePadding": 2, "titleLineHeight": 15, "labelOverlap": false}}}}
                 ]},
                {"data": {"name": "brp"}, "transform": [{"filter": "datum.p=='D'"}],
                 "mark": {"type": "line", "color": "#333333", "strokeWidth": 1.2},
                 "encoding": {"x": {"field": "g", "type": "nominal", "bandPosition": 0.5, "scale": {"type": "band", "domain": ["TNL","TIL","PTNL","PTL"], "paddingInner": 0, "paddingOuter": 0}},
                              "y": {"field": "y", "type": "quantitative", "scale": {"domain": [0, 50], "nice": false}, "axis": {"title": ["% CD27⁻IgD⁺ cells", "within CD19⁺CD20⁺ gate"], "values": [0,10,20,30,40,50], "minExtent": 19, "maxExtent": 19, "titlePadding": 2, "titleLineHeight": 15, "labelOverlap": false}},
                              "order": {"field": "o", "type": "quantitative"}}},
                {"data": {"name": "brt"}, "transform": [{"filter": "datum.p=='D'"}],
                 "mark": {"type": "text", "fontSize": 11, "color": "#333333", "fontWeight": "normal"},
                 "encoding": {"x": {"field": "g", "type": "nominal", "bandPosition": 1, "scale": {"type": "band", "domain": ["TNL","TIL","PTNL","PTL"], "paddingInner": 0, "paddingOuter": 0}},
                              "y": {"field": "y", "type": "quantitative", "scale": {"domain": [0, 50], "nice": false}, "axis": {"title": ["% CD27⁻IgD⁺ cells", "within CD19⁺CD20⁺ gate"], "values": [0,10,20,30,40,50], "minExtent": 19, "maxExtent": 19, "titlePadding": 2, "titleLineHeight": 15, "labelOverlap": false}},
                              "text": {"field": "label"}}}
              ]
            }]
          }
        ]
      },
      {
        "spacing": 18,
        "resolve": {"scale": {"x": "independent", "y": "independent"}},
        "vconcat": [
          {
            "title": {"text": "C", "anchor": "start", "fontSize": 14, "offset": 0},
            "vconcat": [{
              "width": 220, "height": 152,
              "title": {"text": "Decidua Basalis", "frame": "group", "dx": -16, "offset": 4},
              "layer": [
                {"data": {"name": "pts"}, "transform": [{"filter": "datum.p=='C'"}],
                 "mark": {"type": "point", "filled": true, "size": 50, "strokeWidth": 2, "opacity": 1},
                 "encoding": {
                   "x": {"field": "g", "type": "nominal", "scale": {"type": "band", "domain": ["TNL","TIL","TIL with ACA","TIL with CCA","PTNL","PTL","PTL with ACA","PTL with CCA"], "paddingInner": 0, "paddingOuter": 0}, "axis": {"title": null, "labelExpr": "split(datum.value,' ')"}},
                   "xOffset": {"field": "s", "type": "quantitative", "scale": {"domain": [-3, 3], "range": [1.75, 25.75]}},
                   "y": {"field": "v", "type": "quantitative", "scale": {"domain": [0, 100], "nice": false}, "axis": {"title": ["% CD27⁻IgD⁺ cells", "within CD19⁺CD20⁺ gate"], "values": [0,20,40,60,80,100], "minExtent": 20, "maxExtent": 20, "titlePadding": 2, "titleLineHeight": 15, "labelOverlap": false}},
                   "shape": {"condition": {"test": "indexof(datum.g,'PT')==0", "value": "triangle-up"}, "value": "circle"},
                   "fill": {"condition": {"test": "datum.g=='PTL with ACA'", "value": "#f5a03a"}, "value": "transparent"},
                   "stroke": {"condition": [{"test": "datum.g=='TIL'||datum.g=='PTL'", "value": "#3a3ad8"}, {"test": "indexof(datum.g,'ACA')>=0", "value": "#f5a03a"}, {"test": "indexof(datum.g,'CCA')>=0", "value": "#a65bd3"}], "value": "black"}
                 }},
                {"data": {"name": "sum"}, "transform": [{"filter": "datum.p=='C'"}],
                 "encoding": {"x": {"field": "g", "type": "nominal", "bandPosition": 0.5, "scale": {"type": "band", "domain": ["TNL","TIL","TIL with ACA","TIL with CCA","PTNL","PTL","PTL with ACA","PTL with CCA"], "paddingInner": 0, "paddingOuter": 0}}},
                 "layer": [
                   {"mark": {"type": "rule", "color": "#ff1010", "strokeWidth": 2}, "encoding": {"y": {"field": "lo", "type": "quantitative", "scale": {"domain": [0, 100], "nice": false}, "axis": {"title": ["% CD27⁻IgD⁺ cells", "within CD19⁺CD20⁺ gate"], "values": [0,20,40,60,80,100], "minExtent": 20, "maxExtent": 20, "titlePadding": 2, "titleLineHeight": 15, "labelOverlap": false}}, "y2": {"field": "hi"}}},
                   {"mark": {"type": "tick", "size": 11, "thickness": 2, "color": "#ff1010", "opacity": 1}, "encoding": {"y": {"field": "lo", "type": "quantitative", "scale": {"domain": [0, 100], "nice": false}, "axis": {"title": ["% CD27⁻IgD⁺ cells", "within CD19⁺CD20⁺ gate"], "values": [0,20,40,60,80,100], "minExtent": 20, "maxExtent": 20, "titlePadding": 2, "titleLineHeight": 15, "labelOverlap": false}}}},
                   {"mark": {"type": "tick", "size": 11, "thickness": 2, "color": "#ff1010", "opacity": 1}, "encoding": {"y": {"field": "hi", "type": "quantitative", "scale": {"domain": [0, 100], "nice": false}, "axis": {"title": ["% CD27⁻IgD⁺ cells", "within CD19⁺CD20⁺ gate"], "values": [0,20,40,60,80,100], "minExtent": 20, "maxExtent": 20, "titlePadding": 2, "titleLineHeight": 15, "labelOverlap": false}}}},
                   {"mark": {"type": "tick", "size": 20, "thickness": 2, "color": "#ff1010", "opacity": 1}, "encoding": {"y": {"field": "m", "type": "quantitative", "scale": {"domain": [0, 100], "nice": false}, "axis": {"title": ["% CD27⁻IgD⁺ cells", "within CD19⁺CD20⁺ gate"], "values": [0,20,40,60,80,100], "minExtent": 20, "maxExtent": 20, "titlePadding": 2, "titleLineHeight": 15, "labelOverlap": false}}}}
                 ]},
                {"data": {"name": "brp"}, "transform": [{"filter": "datum.p=='C'"}],
                 "mark": {"type": "line", "color": "#333333", "strokeWidth": 1.2},
                 "encoding": {"x": {"field": "g", "type": "nominal", "bandPosition": 0.5, "scale": {"type": "band", "domain": ["TNL","TIL","TIL with ACA","TIL with CCA","PTNL","PTL","PTL with ACA","PTL with CCA"], "paddingInner": 0, "paddingOuter": 0}},
                              "y": {"field": "y", "type": "quantitative", "scale": {"domain": [0, 100], "nice": false}, "axis": {"title": ["% CD27⁻IgD⁺ cells", "within CD19⁺CD20⁺ gate"], "values": [0,20,40,60,80,100], "minExtent": 20, "maxExtent": 20, "titlePadding": 2, "titleLineHeight": 15, "labelOverlap": false}},
                              "order": {"field": "o", "type": "quantitative"}}},
                {"data": {"name": "brt"}, "transform": [{"filter": "datum.p=='C'"}],
                 "mark": {"type": "text", "fontSize": 11, "color": "#333333", "fontWeight": "normal"},
                 "encoding": {"x": {"field": "g", "type": "nominal", "bandPosition": 0.5, "scale": {"type": "band", "domain": ["TNL","TIL","TIL with ACA","TIL with CCA","PTNL","PTL","PTL with ACA","PTL with CCA"], "paddingInner": 0, "paddingOuter": 0}},
                              "y": {"field": "y", "type": "quantitative", "scale": {"domain": [0, 100], "nice": false}, "axis": {"title": ["% CD27⁻IgD⁺ cells", "within CD19⁺CD20⁺ gate"], "values": [0,20,40,60,80,100], "minExtent": 20, "maxExtent": 20, "titlePadding": 2, "titleLineHeight": 15, "labelOverlap": false}},
                              "text": {"field": "label"}}}
              ]
            }]
          },
          {
            "title": {"text": "E", "anchor": "start", "fontSize": 14, "offset": 0, "dy": 20},
            "vconcat": [{
              "width": 220, "height": 155,
              "title": {"text": "Decidua Parietalis", "frame": "group", "dx": -12, "offset": 19},
              "layer": [
                {"data": {"name": "pts"}, "transform": [{"filter": "datum.p=='E'"}],
                 "mark": {"type": "point", "filled": true, "size": 50, "strokeWidth": 2, "opacity": 1},
                 "encoding": {
                   "x": {"field": "g", "type": "nominal", "scale": {"type": "band", "domain": ["TNL","TIL","TIL with ACA","TIL with CCA","PTNL","PTL","PTL with ACA","PTL with CCA"], "paddingInner": 0, "paddingOuter": 0}, "axis": {"title": null, "labelExpr": "split(datum.value,' ')"}},
                   "xOffset": {"field": "s", "type": "quantitative", "scale": {"domain": [-3, 3], "range": [1.75, 25.75]}},
                   "y": {"field": "v", "type": "quantitative", "scale": {"domain": [0, 60], "nice": false}, "axis": {"title": ["% CD27⁻IgD⁺ cells", "within CD19⁺CD20⁺ gate"], "values": [0,20,40,60], "minExtent": 20, "maxExtent": 20, "titlePadding": 2, "titleLineHeight": 15, "labelOverlap": false}},
                   "shape": {"condition": {"test": "indexof(datum.g,'PT')==0", "value": "triangle-up"}, "value": "circle"},
                   "fill": {"condition": {"test": "datum.g=='PTL with ACA'", "value": "#f5a03a"}, "value": "transparent"},
                   "stroke": {"condition": [{"test": "datum.g=='TIL'||datum.g=='PTL'", "value": "#3a3ad8"}, {"test": "indexof(datum.g,'ACA')>=0", "value": "#f5a03a"}, {"test": "indexof(datum.g,'CCA')>=0", "value": "#a65bd3"}], "value": "black"}
                 }},
                {"data": {"name": "sum"}, "transform": [{"filter": "datum.p=='E'"}],
                 "encoding": {"x": {"field": "g", "type": "nominal", "bandPosition": 0.5, "scale": {"type": "band", "domain": ["TNL","TIL","TIL with ACA","TIL with CCA","PTNL","PTL","PTL with ACA","PTL with CCA"], "paddingInner": 0, "paddingOuter": 0}}},
                 "layer": [
                   {"mark": {"type": "rule", "color": "#ff1010", "strokeWidth": 2}, "encoding": {"y": {"field": "lo", "type": "quantitative", "scale": {"domain": [0, 60], "nice": false}, "axis": {"title": ["% CD27⁻IgD⁺ cells", "within CD19⁺CD20⁺ gate"], "values": [0,20,40,60], "minExtent": 20, "maxExtent": 20, "titlePadding": 2, "titleLineHeight": 15, "labelOverlap": false}}, "y2": {"field": "hi"}}},
                   {"mark": {"type": "tick", "size": 11, "thickness": 2, "color": "#ff1010", "opacity": 1}, "encoding": {"y": {"field": "lo", "type": "quantitative", "scale": {"domain": [0, 60], "nice": false}, "axis": {"title": ["% CD27⁻IgD⁺ cells", "within CD19⁺CD20⁺ gate"], "values": [0,20,40,60], "minExtent": 20, "maxExtent": 20, "titlePadding": 2, "titleLineHeight": 15, "labelOverlap": false}}}},
                   {"mark": {"type": "tick", "size": 11, "thickness": 2, "color": "#ff1010", "opacity": 1}, "encoding": {"y": {"field": "hi", "type": "quantitative", "scale": {"domain": [0, 60], "nice": false}, "axis": {"title": ["% CD27⁻IgD⁺ cells", "within CD19⁺CD20⁺ gate"], "values": [0,20,40,60], "minExtent": 20, "maxExtent": 20, "titlePadding": 2, "titleLineHeight": 15, "labelOverlap": false}}}},
                   {"mark": {"type": "tick", "size": 20, "thickness": 2, "color": "#ff1010", "opacity": 1}, "encoding": {"y": {"field": "m", "type": "quantitative", "scale": {"domain": [0, 60], "nice": false}, "axis": {"title": ["% CD27⁻IgD⁺ cells", "within CD19⁺CD20⁺ gate"], "values": [0,20,40,60], "minExtent": 20, "maxExtent": 20, "titlePadding": 2, "titleLineHeight": 15, "labelOverlap": false}}}}
                 ]},
                {"data": {"name": "brp"}, "transform": [{"filter": "datum.p=='E'"}],
                 "mark": {"type": "line", "color": "#333333", "strokeWidth": 1.2},
                 "encoding": {"x": {"field": "g", "type": "nominal", "bandPosition": 0.5, "scale": {"type": "band", "domain": ["TNL","TIL","TIL with ACA","TIL with CCA","PTNL","PTL","PTL with ACA","PTL with CCA"], "paddingInner": 0, "paddingOuter": 0}},
                              "y": {"field": "y", "type": "quantitative", "scale": {"domain": [0, 60], "nice": false}, "axis": {"title": ["% CD27⁻IgD⁺ cells", "within CD19⁺CD20⁺ gate"], "values": [0,20,40,60], "minExtent": 20, "maxExtent": 20, "titlePadding": 2, "titleLineHeight": 15, "labelOverlap": false}},
                              "order": {"field": "o", "type": "quantitative"}}},
                {"data": {"name": "brt"}, "transform": [{"filter": "datum.p=='E'"}],
                 "mark": {"type": "text", "fontSize": 11, "color": "#333333", "fontWeight": "normal"},
                 "encoding": {"x": {"field": "g", "type": "nominal", "bandPosition": 0.5, "scale": {"type": "band", "domain": ["TNL","TIL","TIL with ACA","TIL with CCA","PTNL","PTL","PTL with ACA","PTL with CCA"], "paddingInner": 0, "paddingOuter": 0}},
                              "y": {"field": "y", "type": "quantitative", "scale": {"domain": [0, 60], "nice": false}, "axis": {"title": ["% CD27⁻IgD⁺ cells", "within CD19⁺CD20⁺ gate"], "values": [0,20,40,60], "minExtent": 20, "maxExtent": 20, "titlePadding": 2, "titleLineHeight": 15, "labelOverlap": false}},
                              "text": {"field": "label"}}}
              ]
            }]
          }
        ]
      }
    ]
  }
]
}
